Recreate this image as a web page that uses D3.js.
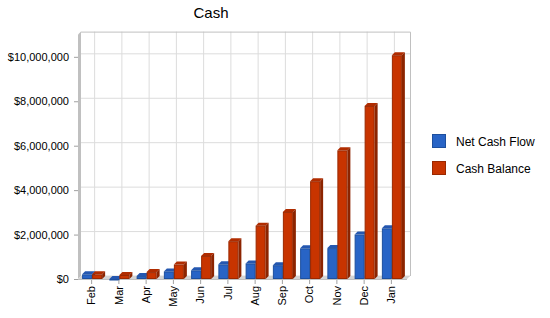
<!DOCTYPE html>
<html>
<head>
<meta charset="utf-8">
<script src="https://cdn.jsdelivr.net/npm/d3@7"></script>
<style>
  body { margin: 0; background: #fff; }
  text { font-family: "Liberation Sans", Arial, sans-serif; }
</style>
</head>
<body>
<svg id="chart" width="550" height="318"></svg>
<script>
// data (values in dollars)
const months = ["Feb", "Mar", "Apr", "May", "Jun", "Jul", "Aug", "Sep", "Oct", "Nov", "Dec", "Jan"];
const netCashFlow = [210000, -30000, 130000, 340000, 390000, 660000, 700000, 620000, 1380000, 1390000, 2000000, 2280000];
const cashBalance = [210000, 180000, 310000, 650000, 1040000, 1700000, 2400000, 3020000, 4400000, 5790000, 7790000, 10070000];
const seriesNames = ["Net Cash Flow", "Cash Balance"];
const yTicks = [0, 2000000, 4000000, 6000000, 8000000, 10000000];

const colors = [
    { front: "#2864c6", top: "#2457b0", side: "#1b4590", edge: "#1d4f9e" },
    { front: "#c83400", top: "#b02c00", side: "#8c2400", edge: "#9a2800" }
];

const svg = d3.select("#chart");
const depth = 3;

const xScale = d3.scaleBand().domain(months).range([78, 405]).padding(0);
const yScale = d3.scaleLinear().domain([0, 11000000]).range([279, 34.6]);
const barW = 10;

const plotLeft = 78, plotRight = 407;
const plotTop = yScale.range()[1], plotBottom = yScale.range()[0];

// back wall grid
const grid = svg.append("g");
yTicks.forEach(function(t) {
    grid.append("line")
        .attr("x1", plotLeft + depth).attr("x2", plotRight + depth)
        .attr("y1", yScale(t) - depth).attr("y2", yScale(t) - depth)
        .attr("stroke", "#dcdcdc");
});
months.forEach(function(m) {
    let cx = xScale(m) + xScale.bandwidth() / 2 + depth;
    grid.append("line")
        .attr("x1", cx).attr("x2", cx)
        .attr("y1", plotTop - depth).attr("y2", plotBottom - depth)
        .attr("stroke", "#dcdcdc");
});
// top and right border
grid.append("path")
    .attr("d", `M${plotLeft + depth},${plotTop - depth + 0.5}H${plotRight + depth + 0.5}V${plotBottom - depth}`)
    .attr("fill", "none").attr("stroke", "#c0c0c0");

// left wall
svg.append("path")
    .attr("d", `M${plotLeft},${plotTop}L${plotLeft + depth},${plotTop - depth}L${plotLeft + depth},${plotBottom - depth}L${plotLeft},${plotBottom}Z`)
    .attr("fill", "#c0c0c0");
// floor
svg.append("path")
    .attr("d", `M${plotLeft},${plotBottom}L${plotLeft + depth},${plotBottom - depth}L${plotRight + depth},${plotBottom - depth}L${plotRight},${plotBottom}Z`)
    .attr("fill", "#d4d4d4");
svg.append("line")
    .attr("x1", plotLeft).attr("x2", plotRight).attr("y1", plotBottom + 0.5).attr("y2", plotBottom + 0.5)
    .attr("stroke", "#c0c0c0");

// 3d bars
function drawBar(g, x, v, c) {
    let y0 = yScale(0), y1 = yScale(v);
    let yt = Math.min(y0, y1), h = Math.abs(y1 - y0);
    g.append("path")
        .attr("d", `M${x},${yt}L${x + depth},${yt - depth}L${x + barW + depth},${yt - depth}L${x + barW},${yt}Z`)
        .attr("fill", c.top);
    g.append("path")
        .attr("d", `M${x + barW},${yt}L${x + barW + depth},${yt - depth}L${x + barW + depth},${yt + h - depth}L${x + barW},${yt + h}Z`)
        .attr("fill", c.side);
    g.append("rect")
        .attr("x", x + 0.5).attr("y", yt + 0.5)
        .attr("width", barW - 1).attr("height", Math.max(h - 1, 0.5))
        .attr("fill", c.front).attr("stroke", c.edge).attr("stroke-width", 1);
}

const bars = svg.append("g");
months.forEach(function(m, i) {
    let cx = xScale(m) + xScale.bandwidth() / 2;
    drawBar(bars, cx - barW + 0.5, netCashFlow[i], colors[0]);
    drawBar(bars, cx + 0.5, cashBalance[i], colors[1]);
});

// y axis
const yAxis = d3.axisLeft(yScale)
    .tickValues(yTicks)
    .tickSize(4)
    .tickFormat(d => "$" + d3.format(",")(d));
svg.append("g")
    .attr("transform", `translate(${plotLeft},0)`)
    .call(yAxis)
    .call(g => g.select(".domain").remove())
    .call(g => g.selectAll("line").attr("stroke", "#a0a0a0"))
    .call(g => g.selectAll("text").attr("font-size", "11px").attr("fill", "#000")
        .attr("font-family", "'Liberation Sans', Arial, sans-serif").attr("x", -9));

// x axis
const xAxis = d3.axisBottom(xScale).tickSize(4);
svg.append("g")
    .attr("transform", `translate(0,${plotBottom + 1})`)
    .call(xAxis)
    .call(g => g.select(".domain").remove())
    .call(g => g.selectAll("line").attr("stroke", "#a0a0a0"))
    .call(g => g.selectAll("text")
        .attr("font-size", "11px").attr("fill", "#000")
        .attr("font-family", "'Liberation Sans', Arial, sans-serif")
        .attr("transform", "rotate(-90)")
        .attr("text-anchor", "end")
        .attr("x", -6).attr("y", 0).attr("dy", "0.35em"));

// title
svg.append("text")
    .attr("x", 211).attr("y", 18)
    .attr("text-anchor", "middle")
    .attr("font-size", "15px")
    .text("Cash");

// legend
const legend = svg.append("g");
seriesNames.forEach(function(name, i) {
    legend.append("rect")
        .attr("x", 432.5).attr("y", 134.5 + i * 27)
        .attr("width", 13).attr("height", 13)
        .attr("fill", colors[i].front).attr("stroke", colors[i].edge);
    legend.append("text")
        .attr("x", 456).attr("y", 145.5 + i * 27)
        .attr("font-size", "12px")
        .text(name);
});
</script>
</body>
</html>
